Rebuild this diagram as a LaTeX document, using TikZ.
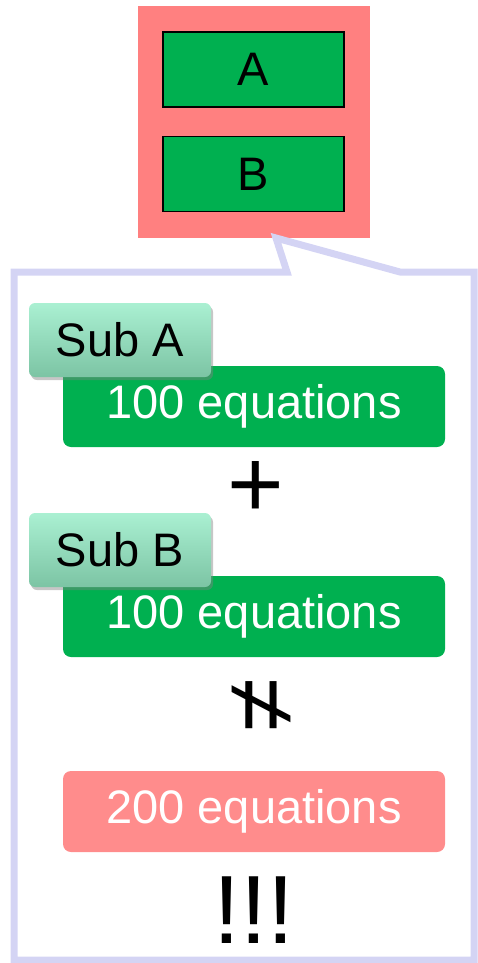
\documentclass[tikz,border=0pt]{standalone}
\usepackage{fontspec}
\setmainfont{Liberation Sans}
\usepackage{tikz}
\usetikzlibrary{shadows}
\definecolor{salmon}{RGB}{255,128,128}
\definecolor{eqgreen}{RGB}{0,176,80}
\definecolor{eqpink}{RGB}{255,140,140}
\definecolor{lavender}{RGB}{212,212,244}
\definecolor{mintlight}{RGB}{170,240,210}
\definecolor{mintdark}{RGB}{124,196,164}

\begin{document}
\begin{tikzpicture}[x=1pt,y=-1pt,
    big/.style={font=\fontsize{47}{56}\selectfont},
    huge/.style={font=\fontsize{97}{110}\selectfont},
    letterbox/.style={big,draw=black,line width=1.5pt,fill=eqgreen,minimum width=181pt,minimum height=75pt,inner sep=0pt},
    eqbox/.style={big,text=white,rounded corners=8pt,minimum width=382pt,minimum height=81pt,inner sep=0pt},
    subbtn/.style={big,rounded corners=6pt,top color=mintlight,bottom color=mintdark,minimum width=182pt,minimum height=74pt,inner sep=0pt,
      drop shadow={shadow xshift=2pt,shadow yshift=-3pt,opacity=0.45}}]
  \useasboundingbox (0,0) rectangle (477,963);
  % top group
  \node[fill=salmon,minimum width=232pt,minimum height=232pt] (group) at (254,122) {};
  \node[letterbox] (boxA) at (253.5,69.5) {A};
  \node[letterbox] (boxB) at (253.5,174) {B};
  % callout frame
  \draw[lavender,line width=7pt,line join=miter]
    (14,272) -- (287,272) -- (276,238) -- (400,272) -- (474,272) -- (474,960) -- (14,960) -- cycle;
  % equations
  \node[eqbox,fill=eqgreen] (eqA) at (254,406.5) {100 equations};
  \node[eqbox,fill=eqgreen] (eqB) at (254,616.5) {100 equations};
  \node[eqbox,fill=eqpink] (eqAB) at (254,811.5) {200 equations};
  \node[subbtn] (subA) at (120,340) {Sub A};
  \node[subbtn] (subB) at (120,550) {Sub B};
  \node[huge] (plus) at (256,490) {+};
  \node[huge,rotate=-90] (neq) at (260,705) {≠};
  \node[huge] (bang) at (254,910) {!!!};
\end{tikzpicture}
\end{document}
